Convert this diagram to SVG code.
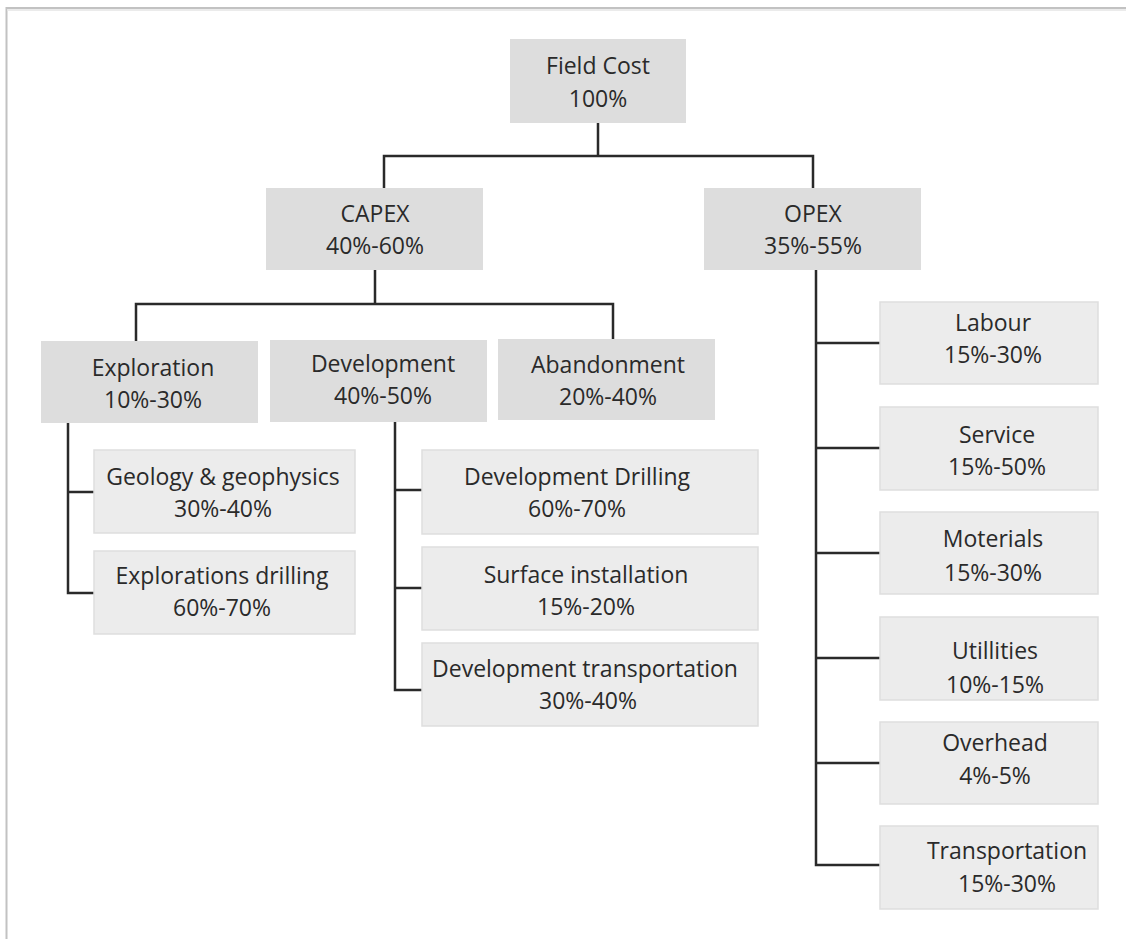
<svg xmlns="http://www.w3.org/2000/svg" width="1126" height="939" viewBox="0 0 1126 939">
<style>
.frame{fill:none;stroke:#c2c2c2;stroke-width:2}
.main{fill:#dddddd}
.leaf{fill:#ececec;stroke:#dedede;stroke-width:1.5}
.lbl{font-family:"Open Sans","Liberation Sans",sans-serif;font-size:23px;fill:#2a2a2a;text-anchor:middle}
.conn{fill:none;stroke:#2a2a2a;stroke-width:2.5;stroke-linecap:square}
</style>
<rect width="1126" height="939" fill="#ffffff"/>
<path class="frame" d="M6.5,939 V8 H1126"/>
<path d="M7.5,10 H1126" stroke="#ebebeb" stroke-width="2" fill="none"/>

<g id="connectors">
<path class="conn" d="M598,123 V156 M384,156 H813 M384,156 V188 M813,156 V188"/>
<path class="conn" d="M375,270 V304 M136,304 H613 M136,304 V341 M613,304 V339"/>
<path class="conn" d="M68,423 V593 H94 M68,492 H94"/>
<path class="conn" d="M395,422 V690 H422 M395,490 H422 M395,588 H422"/>
<path class="conn" d="M816,270 V865 H880 M816,343 H880 M816,448 H880 M816,553 H880 M816,658 H880 M816,763 H880"/>
</g>

<g id="field-cost">
<rect class="main" x="510" y="39" width="176" height="84"/>
<text class="lbl" x="598" y="74">Field Cost</text>
<text class="lbl" x="598" y="107">100%</text>
</g>
<g id="capex">
<rect class="main" x="266" y="188" width="217" height="82"/>
<text class="lbl" x="375" y="222">CAPEX</text>
<text class="lbl" x="375" y="254">40%-60%</text>
</g>
<g id="opex">
<rect class="main" x="704" y="188" width="217" height="82"/>
<text class="lbl" x="813" y="222">OPEX</text>
<text class="lbl" x="813" y="254">35%-55%</text>
</g>
<g id="exploration">
<rect class="main" x="41" y="341" width="217" height="82"/>
<text class="lbl" x="153" y="376">Exploration</text>
<text class="lbl" x="153" y="408">10%-30%</text>
</g>
<g id="development">
<rect class="main" x="270" y="340" width="217" height="82"/>
<text class="lbl" x="383" y="372">Development</text>
<text class="lbl" x="383" y="404">40%-50%</text>
</g>
<g id="abandonment">
<rect class="main" x="498" y="339" width="217" height="81"/>
<text class="lbl" x="608" y="373">Abandonment</text>
<text class="lbl" x="608" y="405">20%-40%</text>
</g>
<g id="geology">
<rect class="leaf" x="94" y="450" width="261" height="83"/>
<text class="lbl" x="223" y="485">Geology &amp; geophysics</text>
<text class="lbl" x="223" y="517">30%-40%</text>
</g>
<g id="explorations-drilling">
<rect class="leaf" x="94" y="551" width="261" height="83"/>
<text class="lbl" x="222" y="584">Explorations drilling</text>
<text class="lbl" x="222" y="616">60%-70%</text>
</g>
<g id="development-drilling">
<rect class="leaf" x="422" y="450" width="336" height="84"/>
<text class="lbl" x="577" y="485">Development Drilling</text>
<text class="lbl" x="577" y="517">60%-70%</text>
</g>
<g id="surface-installation">
<rect class="leaf" x="422" y="547" width="336" height="83"/>
<text class="lbl" x="586" y="583">Surface installation</text>
<text class="lbl" x="586" y="615">15%-20%</text>
</g>
<g id="development-transportation">
<rect class="leaf" x="422" y="643" width="336" height="83"/>
<text class="lbl" x="585" y="677">Development transportation</text>
<text class="lbl" x="588" y="709">30%-40%</text>
</g>
<g id="labour">
<rect class="leaf" x="880" y="302" width="218" height="82"/>
<text class="lbl" x="993" y="331">Labour</text>
<text class="lbl" x="993" y="363">15%-30%</text>
</g>
<g id="service">
<rect class="leaf" x="880" y="407" width="218" height="83"/>
<text class="lbl" x="997" y="443">Service</text>
<text class="lbl" x="997" y="475">15%-50%</text>
</g>
<g id="moterials">
<rect class="leaf" x="880" y="512" width="218" height="82"/>
<text class="lbl" x="993" y="547">Moterials</text>
<text class="lbl" x="993" y="581">15%-30%</text>
</g>
<g id="utillities">
<rect class="leaf" x="880" y="617" width="218" height="83"/>
<text class="lbl" x="995" y="659">Utillities</text>
<text class="lbl" x="995" y="693">10%-15%</text>
</g>
<g id="overhead">
<rect class="leaf" x="880" y="722" width="218" height="82"/>
<text class="lbl" x="995" y="751">Overhead</text>
<text class="lbl" x="995" y="784">4%-5%</text>
</g>
<g id="transportation">
<rect class="leaf" x="880" y="826" width="218" height="83"/>
<text class="lbl" x="1007" y="859">Transportation</text>
<text class="lbl" x="1007" y="892">15%-30%</text>
</g>
</svg>
